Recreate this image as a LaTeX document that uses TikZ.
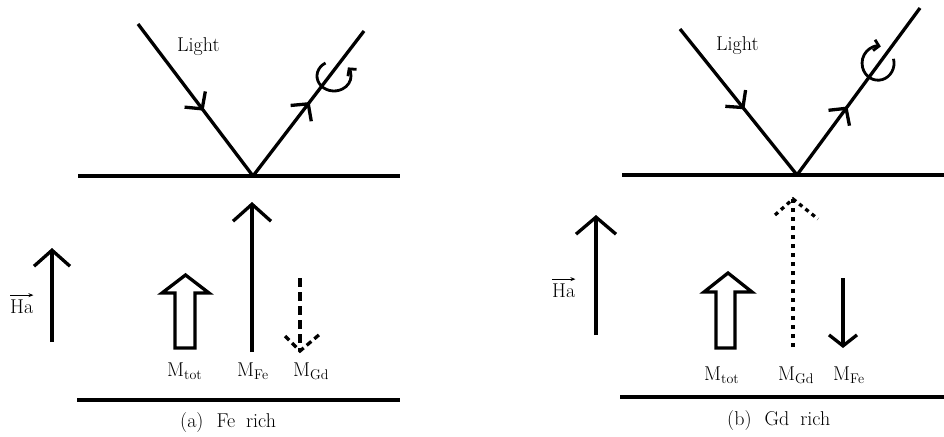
\RequirePackage{fix-cm}
\documentclass[tikz,border=0pt]{standalone}
\usetikzlibrary{arrows.meta, decorations.markings}

\begin{document}
\begin{tikzpicture}[x=1pt, y=-1pt,
		font=\fontsize{20}{24}\selectfont,
		surface/.style={line width=4.5pt},
		ray/.style={line width=3.3pt, decoration={markings, mark=at position #1 with {\arrow{Straight Barb[length=12pt,width=26pt]}}}, postaction={decorate}},
		ray/.default=0.5,
		field/.style={line width=3.3pt, -{Straight Barb[length=16pt,width=36pt]}},
		hollow/.style={line width=3.3pt, line join=miter},
		sublat/.style={line width=3.3pt, dash pattern=#1},
		spin/.style={line width=2.8pt, -{Straight Barb[length=5pt,width=11pt]}},
		vecbar/.style={line width=1.2pt, -{Stealth[length=5pt,width=4pt]}},
		lbl/.style={anchor=base west, inner sep=0pt}
		]
		\useasboundingbox (0,0) rectangle (944,436);
		
		% (a) Fe rich
		\coordinate (ra) at (253,176);
		\coordinate (ina) at (138,24);
		\coordinate (outa) at (364,31);
		\draw[surface] (78,176) -- (400,176);
		\draw[surface] (77,400) -- (400,400);
		\draw[ray=0.57] (ina) -- (ra);
		\draw[ray=0.51] (ra) -- (outa);
		\draw[spin] (325.5,63) arc[start angle=240, end angle=-35, x radius=17, y radius=15];
		\node[lbl] (lighta) at (177,52) {Light};
		
		\draw[field] (52,342) -- (52,248);
		\node[lbl] (haa) at (10,313) {Ha};
		\draw[vecbar] ([yshift=4pt]haa.north west) -- ([yshift=4pt]haa.north east);
		\draw[hollow] (175,348) -- (175,293) -- (162,293) -- (185.5,275) -- (209,293) -- (195,293) -- (195,348) -- cycle;
		\draw[field, -{Straight Barb[length=17pt,width=38pt]}] (252,352) -- (252,202);
		\draw[sublat={on 9pt off 5pt}] (300,278) -- (300,351);
		\draw[sublat={on 6pt off 4pt}] (285,336) -- (300,351) -- (320,334);
		\node[lbl] (mtota) at (167,376) {M\textsubscript{tot}};
		\node[lbl] (mfea) at (237,376) {M\textsubscript{Fe}};
		\node[lbl] (mgda) at (293,376) {M\textsubscript{Gd}};
		\node[lbl] (capa) at (180,427) {(a)\hspace{13pt}Fe\hspace{11pt}rich};
		
		% (b) Gd rich
		\coordinate (rb) at (797,175);
		\coordinate (inb) at (680,29);
		\coordinate (outb) at (920,8);
		\draw[surface] (622,175) -- (944,175);
		\draw[surface] (620,397) -- (944,397);
		\draw[ray=0.55] (inb) -- (rb);
		\draw[ray=0.41] (rb) -- (outb);
		\draw[spin] (893.5,58.8) arc[start angle=-15, end angle=280, x radius=16, y radius=17];
		\node[lbl] (lightb) at (716,51) {Light};
		
		\draw[field, -{Straight Barb[length=17pt,width=40pt]}] (596,335) -- (596,215);
		\node[lbl] (hab) at (552,297) {Ha};
		\draw[vecbar] ([yshift=4pt]hab.north west) -- ([yshift=4pt]hab.north east);
		\draw[hollow] (716,348) -- (716,292) -- (704,292) -- (728,273) -- (752,292) -- (735,292) -- (735,348) -- cycle;
		\draw[sublat={on 4pt off 5pt}] (793,347) -- (793,199);
		\draw[sublat={on 4pt off 4pt}] (775,215) -- (793,199) -- (818,219);
		\draw[field, -{Straight Barb[length=11pt,width=28pt]}] (843,278) -- (843,348);
		\node[lbl] (mtotb) at (704,380) {M\textsubscript{tot}};
		\node[lbl] (mgdb) at (778,380) {M\textsubscript{Gd}};
		\node[lbl] (mfeb) at (833,380) {M\textsubscript{Fe}};
		\node[lbl] (capb) at (727,425) {(b)\hspace{13pt}Gd\hspace{11pt}rich};
		
	\end{tikzpicture}
\end{document}
